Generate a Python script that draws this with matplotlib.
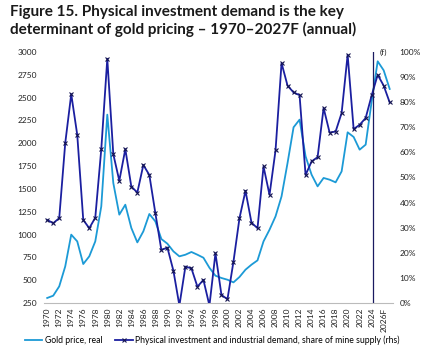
import matplotlib
matplotlib.use("Agg")
import matplotlib.pyplot as plt
from matplotlib.ticker import FuncFormatter, MultipleLocator

years = list(range(1970, 2028))
gold_price_real = [305, 330, 432, 651, 999, 925, 677, 761, 925, 1309,
                   2314, 1565, 1218, 1327, 1072, 914, 1035, 1225, 1144, 951,
                   900, 816, 761, 779, 809, 779, 746, 636, 549, 524,
                   505, 476, 535, 615, 670, 717, 925, 1053, 1199, 1418,
                   1784, 2175, 2259, 1857, 1656, 1528, 1620, 1601, 1572, 1692,
                   2120, 2069, 1930, 1985, 2460, 2898, 2799, 2595]
share_mine_supply = [33.1, 31.8, 33.8, 63.7, 83.2, 67.0, 33.1, 29.8, 34.0, 61.3,
                     97.3, 59.3, 48.7, 61.3, 46.4, 44.0, 55.0, 51.0, 35.8, 21.1,
                     22.1, 12.9, -1.0, 14.5, 13.8, 6.5, 9.2, -1.0, 19.8, 3.2,
                     1.5, 16.5, 33.8, 44.7, 32.0, 29.8, 54.4, 43.1, 60.8, 95.6,
                     86.6, 83.9, 82.8, 51.0, 56.4, 58.1, 77.7, 67.9, 68.3, 75.7,
                     98.9, 69.3, 71.0, 73.7, 82.7, 90.9, 86.6, 79.9]
tick_years = list(range(1970, 2025, 2)) + [2026]
tick_labels = [str(y) for y in range(1970, 2025, 2)] + ["2026F"]
forecast_start = 2024.2

title = "Figure 15. Physical investment demand is the key\ndeterminant of gold pricing – 1970–2027F (annual)"
label_gold = "Gold price, real"
label_share = "Physical investment and industrial demand, share of mine supply (rhs)"

light = "#1C9AD6"
dark = "#1B1FA0"

plt.rcParams['font.family'] = ['Lato', 'DejaVu Sans']

fig = plt.figure(figsize=(4.25, 3.55), dpi=100)
ax = fig.add_axes([0.104, 0.1465, 0.82, 0.707])
ax2 = ax.twinx()

l1, = ax.plot(years, gold_price_real, color=light, lw=1.3, zorder=3)
l2, = ax2.plot(years, share_mine_supply, color=dark, lw=1.3, marker='x',
               ms=3.5, mew=0.8, mec="#141450", zorder=4)
ax2.axvline(forecast_start, color="#1a1a60", lw=0.9, zorder=5)

ax.set_xlim(1969.5, 2027.5)
ax.set_ylim(250, 3000)
ax2.set_ylim(0, 100)
ax.yaxis.set_major_locator(MultipleLocator(250))
ax2.yaxis.set_major_locator(MultipleLocator(10))
ax2.yaxis.set_major_formatter(FuncFormatter(lambda v, p: f"{int(round(v))}%"))

ax.set_xticks(tick_years)
ax.set_xticklabels(tick_labels, rotation=90, fontsize=6)
for a in (ax, ax2):
    for s in a.spines.values():
        s.set_visible(False)
    a.tick_params(length=0, labelsize=6, colors="#222222")
ax.spines['bottom'].set_visible(True)
ax.spines['bottom'].set_color("#bbbbbb")
ax.spines['bottom'].set_linewidth(0.8)
ax.tick_params(axis='y', pad=5)
ax2.tick_params(axis='y', pad=5)

ax2.text(forecast_start + 1.1, 100, "(f)", fontsize=6, color="#222222",
         ha='left', va='center')

fig.text(0.024, 0.985, title, fontsize=11, fontweight='bold', va='top',
         ha='left', color="#1a1a1a", linespacing=1.25)

fig.legend([l1, l2], [label_gold, label_share], loc='lower center',
           bbox_to_anchor=(0.5, 0.005), ncol=2, frameon=False, fontsize=6.2,
           handlelength=2.0, handletextpad=0.3, columnspacing=1.5)

fig.savefig("out.png", dpi=100)
